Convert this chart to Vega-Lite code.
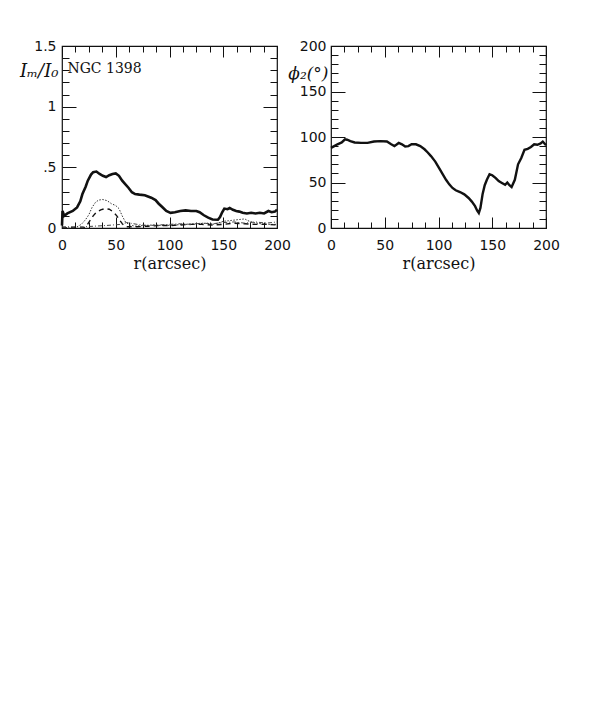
{
  "$schema": "https://vega.github.io/schema/vega-lite/v6.json",
  "background": "white",
  "padding": {"left": 18, "top": 38, "right": 5, "bottom": 5},
  "bounds": "flush",
  "spacing": 54,
  "config": {
    "view": {"stroke": "#111", "strokeWidth": 1.2},
    "axis": {"grid": false, "domain": false, "labelFlush": false, "labelOverlap": false, "tickColor": "#111", "tickWidth": 1, "labelColor": "#111", "titleColor": "#111", "labelFont": "DejaVu Sans", "labelFontSize": 14, "titleFont": "DejaVu Serif", "titleFontSize": 16, "titleFontWeight": "normal"}
  },
  "datasets": {
    "left": [
      {"r": 0, "v": 0.02, "m": "2"}, {"r": 0.5, "v": 0.14, "m": "2"}, {"r": 2, "v": 0.1, "m": "2"}, {"r": 5, "v": 0.12, "m": "2"}, {"r": 10, "v": 0.14, "m": "2"}, {"r": 14, "v": 0.17, "m": "2"}, {"r": 17, "v": 0.22, "m": "2"}, {"r": 19, "v": 0.28, "m": "2"}, {"r": 22, "v": 0.34, "m": "2"}, {"r": 24, "v": 0.39, "m": "2"}, {"r": 27, "v": 0.44, "m": "2"}, {"r": 29, "v": 0.46, "m": "2"}, {"r": 32, "v": 0.465, "m": "2"}, {"r": 35, "v": 0.445, "m": "2"}, {"r": 38, "v": 0.43, "m": "2"}, {"r": 41, "v": 0.42, "m": "2"}, {"r": 44, "v": 0.435, "m": "2"}, {"r": 47, "v": 0.445, "m": "2"}, {"r": 50, "v": 0.45, "m": "2"}, {"r": 53, "v": 0.43, "m": "2"}, {"r": 56, "v": 0.39, "m": "2"}, {"r": 58, "v": 0.37, "m": "2"}, {"r": 62, "v": 0.33, "m": "2"}, {"r": 65, "v": 0.295, "m": "2"}, {"r": 68, "v": 0.28, "m": "2"}, {"r": 72, "v": 0.275, "m": "2"}, {"r": 77, "v": 0.27, "m": "2"}, {"r": 83, "v": 0.25, "m": "2"}, {"r": 87, "v": 0.23, "m": "2"}, {"r": 90, "v": 0.2, "m": "2"}, {"r": 93, "v": 0.175, "m": "2"}, {"r": 97, "v": 0.14, "m": "2"}, {"r": 101, "v": 0.125, "m": "2"}, {"r": 105, "v": 0.13, "m": "2"}, {"r": 110, "v": 0.14, "m": "2"}, {"r": 115, "v": 0.145, "m": "2"}, {"r": 120, "v": 0.14, "m": "2"}, {"r": 125, "v": 0.14, "m": "2"}, {"r": 128, "v": 0.13, "m": "2"}, {"r": 132, "v": 0.105, "m": "2"}, {"r": 136, "v": 0.085, "m": "2"}, {"r": 140, "v": 0.07, "m": "2"}, {"r": 145, "v": 0.068, "m": "2"}, {"r": 147, "v": 0.09, "m": "2"}, {"r": 149, "v": 0.13, "m": "2"}, {"r": 151, "v": 0.16, "m": "2"}, {"r": 154, "v": 0.155, "m": "2"}, {"r": 156, "v": 0.165, "m": "2"}, {"r": 159, "v": 0.15, "m": "2"}, {"r": 162, "v": 0.14, "m": "2"}, {"r": 165, "v": 0.135, "m": "2"}, {"r": 168, "v": 0.125, "m": "2"}, {"r": 172, "v": 0.12, "m": "2"}, {"r": 176, "v": 0.125, "m": "2"}, {"r": 180, "v": 0.12, "m": "2"}, {"r": 184, "v": 0.125, "m": "2"}, {"r": 188, "v": 0.12, "m": "2"}, {"r": 192, "v": 0.14, "m": "2"}, {"r": 195, "v": 0.13, "m": "2"}, {"r": 198, "v": 0.135, "m": "2"}, {"r": 200, "v": 0.15, "m": "2"},
      {"r": 0, "v": 0.0, "m": "4"}, {"r": 8, "v": 0.0, "m": "4"}, {"r": 14, "v": 0.01, "m": "4"}, {"r": 18, "v": 0.03, "m": "4"}, {"r": 22, "v": 0.07, "m": "4"}, {"r": 25, "v": 0.11, "m": "4"}, {"r": 28, "v": 0.17, "m": "4"}, {"r": 31, "v": 0.21, "m": "4"}, {"r": 34, "v": 0.23, "m": "4"}, {"r": 38, "v": 0.235, "m": "4"}, {"r": 42, "v": 0.225, "m": "4"}, {"r": 46, "v": 0.2, "m": "4"}, {"r": 50, "v": 0.185, "m": "4"}, {"r": 53, "v": 0.16, "m": "4"}, {"r": 56, "v": 0.1, "m": "4"}, {"r": 59, "v": 0.05, "m": "4"}, {"r": 63, "v": 0.025, "m": "4"}, {"r": 68, "v": 0.015, "m": "4"}, {"r": 75, "v": 0.02, "m": "4"}, {"r": 85, "v": 0.025, "m": "4"}, {"r": 95, "v": 0.02, "m": "4"}, {"r": 105, "v": 0.025, "m": "4"}, {"r": 115, "v": 0.03, "m": "4"}, {"r": 125, "v": 0.035, "m": "4"}, {"r": 135, "v": 0.04, "m": "4"}, {"r": 140, "v": 0.03, "m": "4"}, {"r": 145, "v": 0.04, "m": "4"}, {"r": 150, "v": 0.055, "m": "4"}, {"r": 155, "v": 0.06, "m": "4"}, {"r": 160, "v": 0.065, "m": "4"}, {"r": 165, "v": 0.07, "m": "4"}, {"r": 170, "v": 0.075, "m": "4"}, {"r": 173, "v": 0.06, "m": "4"}, {"r": 178, "v": 0.045, "m": "4"}, {"r": 185, "v": 0.035, "m": "4"}, {"r": 192, "v": 0.03, "m": "4"}, {"r": 200, "v": 0.03, "m": "4"},
      {"r": 0, "v": 0.0, "m": "6"}, {"r": 20, "v": 0.0, "m": "6"}, {"r": 23, "v": 0.02, "m": "6"}, {"r": 26, "v": 0.06, "m": "6"}, {"r": 29, "v": 0.1, "m": "6"}, {"r": 32, "v": 0.13, "m": "6"}, {"r": 36, "v": 0.15, "m": "6"}, {"r": 40, "v": 0.16, "m": "6"}, {"r": 44, "v": 0.155, "m": "6"}, {"r": 48, "v": 0.13, "m": "6"}, {"r": 51, "v": 0.1, "m": "6"}, {"r": 54, "v": 0.06, "m": "6"}, {"r": 57, "v": 0.025, "m": "6"}, {"r": 60, "v": 0.01, "m": "6"}, {"r": 70, "v": 0.01, "m": "6"}, {"r": 80, "v": 0.015, "m": "6"}, {"r": 90, "v": 0.02, "m": "6"}, {"r": 100, "v": 0.02, "m": "6"}, {"r": 110, "v": 0.025, "m": "6"}, {"r": 120, "v": 0.03, "m": "6"}, {"r": 130, "v": 0.03, "m": "6"}, {"r": 140, "v": 0.025, "m": "6"}, {"r": 150, "v": 0.03, "m": "6"}, {"r": 160, "v": 0.04, "m": "6"}, {"r": 170, "v": 0.035, "m": "6"}, {"r": 180, "v": 0.03, "m": "6"}, {"r": 190, "v": 0.03, "m": "6"}, {"r": 200, "v": 0.025, "m": "6"},
      {"r": 0, "v": 0.01, "m": "8"}, {"r": 20, "v": 0.01, "m": "8"}, {"r": 40, "v": 0.02, "m": "8"}, {"r": 55, "v": 0.03, "m": "8"}, {"r": 60, "v": 0.045, "m": "8"}, {"r": 70, "v": 0.03, "m": "8"}, {"r": 80, "v": 0.02, "m": "8"}, {"r": 90, "v": 0.025, "m": "8"}, {"r": 100, "v": 0.03, "m": "8"}, {"r": 110, "v": 0.035, "m": "8"}, {"r": 120, "v": 0.03, "m": "8"}, {"r": 130, "v": 0.04, "m": "8"}, {"r": 140, "v": 0.035, "m": "8"}, {"r": 150, "v": 0.045, "m": "8"}, {"r": 160, "v": 0.05, "m": "8"}, {"r": 170, "v": 0.04, "m": "8"}, {"r": 180, "v": 0.05, "m": "8"}, {"r": 190, "v": 0.04, "m": "8"}, {"r": 200, "v": 0.05, "m": "8"}
    ],
    "right": [
      {"r": 0, "phi": 88}, {"r": 3, "phi": 90}, {"r": 6, "phi": 92}, {"r": 10, "phi": 94}, {"r": 13, "phi": 97.5}, {"r": 15, "phi": 97}, {"r": 18, "phi": 95.5}, {"r": 22, "phi": 94}, {"r": 28, "phi": 93.5}, {"r": 34, "phi": 93.5}, {"r": 40, "phi": 95}, {"r": 46, "phi": 95.5}, {"r": 52, "phi": 95}, {"r": 56, "phi": 92}, {"r": 59, "phi": 90}, {"r": 63, "phi": 93.5}, {"r": 66, "phi": 92}, {"r": 69, "phi": 89.5}, {"r": 72, "phi": 90}, {"r": 75, "phi": 92}, {"r": 79, "phi": 92}, {"r": 83, "phi": 90}, {"r": 87, "phi": 86.5}, {"r": 90, "phi": 83}, {"r": 93, "phi": 79}, {"r": 97, "phi": 73}, {"r": 101, "phi": 65}, {"r": 104, "phi": 59}, {"r": 107, "phi": 53}, {"r": 110, "phi": 48}, {"r": 113, "phi": 44}, {"r": 116, "phi": 41.5}, {"r": 120, "phi": 39.5}, {"r": 124, "phi": 37}, {"r": 128, "phi": 33}, {"r": 131, "phi": 29}, {"r": 134, "phi": 24}, {"r": 136, "phi": 19}, {"r": 137.5, "phi": 16.5}, {"r": 139, "phi": 22}, {"r": 141, "phi": 37}, {"r": 143, "phi": 47}, {"r": 145, "phi": 53}, {"r": 147.5, "phi": 59}, {"r": 150, "phi": 58}, {"r": 153, "phi": 55}, {"r": 156, "phi": 51.5}, {"r": 159, "phi": 49.5}, {"r": 162, "phi": 47.5}, {"r": 164, "phi": 50}, {"r": 166, "phi": 47}, {"r": 168, "phi": 45}, {"r": 171, "phi": 53}, {"r": 174, "phi": 70}, {"r": 177, "phi": 77}, {"r": 180, "phi": 86}, {"r": 183, "phi": 87}, {"r": 186, "phi": 89}, {"r": 189, "phi": 92}, {"r": 192, "phi": 91.5}, {"r": 195, "phi": 93}, {"r": 197, "phi": 95}, {"r": 200, "phi": 91}
    ]
  },
  "hconcat": [
    {
      "width": 215, "height": 182,
      "resolve": {"axis": {"x": "independent", "y": "independent"}},
      "layer": [
        {
          "data": {"name": "left"},
          "transform": [{"filter": "datum.m == '2'"}],
          "mark": {"type": "line", "color": "#111", "strokeWidth": 2.6},
          "encoding": {
            "x": {"field": "r", "type": "quantitative", "scale": {"domain": [0, 200], "nice": false},
                  "axis": {"orient": "bottom", "values": [0, 50, 100, 150, 200], "tickSize": -11, "labelPadding": 21, "title": "r(arcsec)", "titlePadding": 3}},
            "y": {"field": "v", "type": "quantitative", "scale": {"domain": [0, 1.5], "nice": false},
                  "axis": {"orient": "left", "values": [0, 0.5, 1, 1.5], "tickSize": -14, "labelPadding": 20,
                           "labelExpr": "datum.value == 0.5 ? '.5' : datum.value == 1 ? '1' : datum.value == 1.5 ? '1.5' : '0'",
                           "title": "Iₘ/I₀", "titleFontStyle": "italic", "titleFontSize": 18, "titleAngle": 0, "titleAlign": "right", "titleBaseline": "middle", "titleX": -4, "titleY": 25}}
          }
        },
        {
          "data": {"name": "left"},
          "transform": [{"filter": "datum.m == '4'"}],
          "mark": {"type": "line", "color": "#333", "strokeWidth": 1, "strokeDash": [1.5, 1.5]},
          "encoding": {
            "x": {"field": "r", "type": "quantitative",
                  "axis": {"orient": "bottom", "values": [12.5, 25, 37.5, 62.5, 75, 87.5, 112.5, 125, 137.5, 162.5, 175, 187.5], "tickSize": -6, "labels": false, "title": null}},
            "y": {"field": "v", "type": "quantitative",
                  "axis": {"orient": "left", "values": [0.1, 0.2, 0.3, 0.4, 0.6, 0.7, 0.8, 0.9, 1.1, 1.2, 1.3, 1.4], "tickSize": -7, "labels": false, "title": null}}
          }
        },
        {
          "data": {"name": "left"},
          "transform": [{"filter": "datum.m == '6'"}],
          "mark": {"type": "line", "color": "#111", "strokeWidth": 1.4, "strokeDash": [5, 4]},
          "encoding": {
            "x": {"field": "r", "type": "quantitative",
                  "axis": {"orient": "top", "values": [0, 50, 100, 150, 200], "tickSize": -11, "labels": false, "title": null}},
            "y": {"field": "v", "type": "quantitative",
                  "axis": {"orient": "right", "values": [0, 0.5, 1, 1.5], "tickSize": -14, "labels": false, "title": null}}
          }
        },
        {
          "data": {"name": "left"},
          "transform": [{"filter": "datum.m == '8'"}],
          "mark": {"type": "line", "color": "#444", "strokeWidth": 1, "strokeDash": [4, 2, 1, 2]},
          "encoding": {
            "x": {"field": "r", "type": "quantitative",
                  "axis": {"orient": "top", "values": [12.5, 25, 37.5, 62.5, 75, 87.5, 112.5, 125, 137.5, 162.5, 175, 187.5], "tickSize": -6, "labels": false, "title": null}},
            "y": {"field": "v", "type": "quantitative",
                  "axis": {"orient": "right", "values": [0.1, 0.2, 0.3, 0.4, 0.6, 0.7, 0.8, 0.9, 1.1, 1.2, 1.3, 1.4], "tickSize": -7, "labels": false, "title": null}}
          }
        },
        {
          "data": {"values": [{"r": 5, "v": 1.31, "label": "NGC 1398"}]},
          "mark": {"type": "text", "align": "left", "baseline": "middle", "font": "DejaVu Serif", "fontSize": 14, "color": "#111"},
          "encoding": {
            "x": {"field": "r", "type": "quantitative", "axis": null},
            "y": {"field": "v", "type": "quantitative", "axis": null},
            "text": {"field": "label"}
          }
        }
      ]
    },
    {
      "width": 215, "height": 182,
      "data": {"name": "right"},
      "resolve": {"axis": {"x": "independent", "y": "independent"}},
      "layer": [
        {
          "mark": {"type": "line", "color": "#111", "strokeWidth": 2.4},
          "encoding": {
            "x": {"field": "r", "type": "quantitative", "scale": {"domain": [0, 200], "nice": false},
                  "axis": {"orient": "bottom", "values": [0, 50, 100, 150, 200], "tickSize": -11, "labelPadding": 21, "title": "r(arcsec)", "titlePadding": 3}},
            "y": {"field": "phi", "type": "quantitative", "scale": {"domain": [0, 200], "nice": false},
                  "axis": {"orient": "left", "values": [0, 50, 100, 150, 200], "tickSize": -14, "labelPadding": 19,
                           "title": "ϕ₂(°)", "titleFontStyle": "italic", "titleFontSize": 17, "titleAngle": 0, "titleAlign": "right", "titleBaseline": "middle", "titleX": -3, "titleY": 27}}
          }
        },
        {
          "mark": {"type": "line", "opacity": 0},
          "encoding": {
            "x": {"field": "r", "type": "quantitative",
                  "axis": {"orient": "bottom", "values": [12.5, 25, 37.5, 62.5, 75, 87.5, 112.5, 125, 137.5, 162.5, 175, 187.5], "tickSize": -6, "labels": false, "title": null}},
            "y": {"field": "phi", "type": "quantitative",
                  "axis": {"orient": "left", "values": [10, 20, 30, 40, 60, 70, 80, 90, 110, 120, 130, 140, 160, 170, 180, 190], "tickSize": -7, "labels": false, "title": null}}
          }
        },
        {
          "mark": {"type": "line", "opacity": 0},
          "encoding": {
            "x": {"field": "r", "type": "quantitative",
                  "axis": {"orient": "top", "values": [0, 50, 100, 150, 200], "tickSize": -11, "labels": false, "title": null}},
            "y": {"field": "phi", "type": "quantitative",
                  "axis": {"orient": "right", "values": [0, 50, 100, 150, 200], "tickSize": -14, "labels": false, "title": null}}
          }
        },
        {
          "mark": {"type": "line", "opacity": 0},
          "encoding": {
            "x": {"field": "r", "type": "quantitative",
                  "axis": {"orient": "top", "values": [12.5, 25, 37.5, 62.5, 75, 87.5, 112.5, 125, 137.5, 162.5, 175, 187.5], "tickSize": -6, "labels": false, "title": null}},
            "y": {"field": "phi", "type": "quantitative",
                  "axis": {"orient": "right", "values": [10, 20, 30, 40, 60, 70, 80, 90, 110, 120, 130, 140, 160, 170, 180, 190], "tickSize": -7, "labels": false, "title": null}}
          }
        }
      ]
    }
  ]
}
